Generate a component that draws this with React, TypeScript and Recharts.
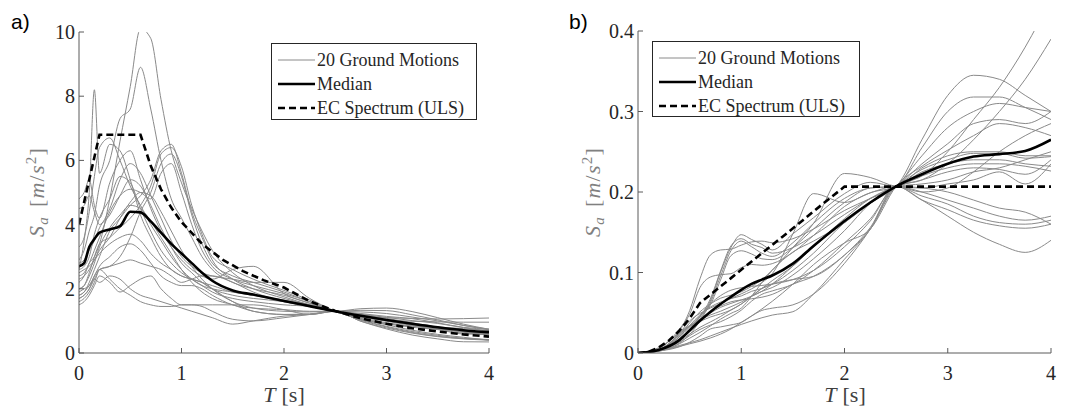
import React from 'react';
import { LineChart, Line, XAxis, YAxis, Legend } from 'recharts';

// ---------- data ----------
const T_A = [0, 0.05, 0.1, 0.15, 0.2, 0.3, 0.4, 0.5, 0.6, 0.7, 0.8, 0.9, 1.0, 1.1, 1.2, 1.3, 1.5, 1.7, 2.0, 2.25, 2.5, 2.75, 3.0, 3.25, 3.5, 3.75, 4.0];

const GM_A: number[][] = [
  [2.2, 2.4, 2.8, 3.0, 3.4, 4.8, 6.6, 8.3, 10.1, 9.8, 7.9, 6.3, 5.3, 4.5, 3.8, 3.2, 2.5, 2.1, 1.75, 1.5, 1.3, 1.38, 1.40, 1.29, 1.10, 0.90, 0.74],
  [2.9, 3.2, 3.8, 4.3, 5.2, 6.0, 7.3, 7.6, 8.9, 7.6, 6.0, 4.8, 4.2, 3.6, 3.0, 2.6, 2.2, 2.0, 1.8, 1.55, 1.3, 1.33, 1.32, 1.19, 1.03, 0.86, 0.72],
  [2.6, 3.5, 5.0, 8.2, 5.6, 6.5, 6.3, 5.4, 4.3, 3.6, 3.0, 2.6, 2.4, 2.3, 2.2, 2.1, 1.9, 1.8, 1.6, 1.45, 1.3, 1.28, 1.23, 1.12, 1.0, 0.86, 0.74],
  [1.8, 1.9, 2.2, 2.6, 3.0, 3.8, 4.2, 4.6, 4.9, 5.4, 6.3, 6.5, 5.6, 4.4, 3.6, 2.9, 2.3, 2.0, 1.7, 1.5, 1.3, 1.23, 1.14, 1.07, 0.94, 0.80, 0.74],
  [2.0, 2.1, 2.5, 3.0, 3.4, 3.6, 3.9, 4.2, 4.6, 5.2, 6.2, 6.4, 5.8, 4.6, 3.7, 3.0, 2.6, 2.3, 1.95, 1.65, 1.3, 1.20, 1.08, 0.94, 0.81, 0.69, 0.60],
  [1.7, 1.8, 2.0, 2.3, 2.6, 2.7, 3.0, 3.6, 4.4, 5.0, 5.9, 6.2, 5.5, 4.3, 3.4, 2.8, 2.4, 2.2, 1.9, 1.6, 1.3, 1.17, 1.03, 0.90, 0.77, 0.66, 0.57],
  [2.4, 2.5, 2.8, 3.2, 3.6, 4.4, 4.9, 5.1, 5.0, 4.8, 5.6, 5.9, 5.0, 4.0, 3.2, 2.7, 2.3, 2.1, 1.85, 1.6, 1.3, 1.15, 1.01, 0.88, 0.76, 0.65, 0.56],
  [3.3, 3.6, 4.4, 5.5, 6.4, 6.7, 6.0, 5.2, 4.6, 4.0, 3.5, 3.0, 2.6, 2.3, 2.1, 2.0, 1.9, 1.8, 1.65, 1.5, 1.3, 1.12, 0.99, 0.86, 0.74, 0.62, 0.59],
  [4.8, 5.0, 5.4, 4.6, 4.2, 5.3, 6.0, 6.3, 5.4, 4.5, 3.8, 3.3, 2.9, 2.6, 2.4, 2.3, 2.6, 2.7, 1.85, 1.55, 1.3, 1.04, 0.90, 0.84, 0.81, 0.76, 0.70],
  [4.5, 4.6, 4.9, 4.4, 4.0, 4.5, 5.4, 5.9, 5.6, 4.9, 4.2, 3.5, 3.0, 2.7, 2.5, 2.4, 2.3, 2.2, 2.2, 1.7, 1.3, 1.07, 0.92, 0.80, 0.73, 0.59, 0.58],
  [2.6, 2.7, 3.0, 3.7, 4.2, 4.8, 5.5, 5.3, 4.5, 3.8, 3.2, 2.8, 2.5, 2.3, 2.1, 1.9, 1.7, 1.6, 1.5, 1.45, 1.3, 1.04, 0.83, 0.67, 0.55, 0.46, 0.42],
  [2.8, 2.9, 3.2, 3.5, 3.9, 4.3, 4.9, 5.4, 5.2, 4.6, 3.9, 3.3, 2.8, 2.5, 2.2, 2.0, 1.8, 1.7, 1.6, 1.45, 1.3, 1.02, 0.81, 0.64, 0.52, 0.45, 0.41],
  [2.3, 2.4, 2.6, 2.9, 3.2, 3.6, 4.2, 4.7, 5.0, 4.9, 4.4, 3.8, 3.2, 2.7, 2.3, 2.0, 1.6, 1.4, 1.3, 1.28, 1.3, 0.99, 0.78, 0.62, 0.51, 0.44, 0.40],
  [2.0, 2.1, 2.4, 2.8, 3.3, 3.9, 4.3, 4.6, 4.5, 4.1, 3.6, 3.1, 2.6, 2.2, 1.9, 1.7, 1.5, 1.3, 1.2, 1.2, 1.3, 0.99, 0.75, 0.56, 0.44, 0.35, 0.345],
  [2.5, 2.6, 2.7, 2.9, 3.1, 3.4, 3.6, 3.7, 3.5, 3.1, 2.8, 2.6, 2.4, 2.3, 2.2, 2.0, 1.6, 1.3, 1.2, 1.22, 1.3, 1.07, 0.88, 0.71, 0.58, 0.49, 0.40],
  [1.9, 2.0, 2.1, 2.4, 2.7, 3.0, 3.3, 3.4, 3.2, 2.8, 2.4, 2.2, 2.1, 2.1, 2.0, 1.8, 1.5, 1.4, 1.35, 1.3, 1.3, 1.10, 0.94, 0.84, 0.74, 0.67, 0.62],
  [1.6, 1.7, 1.9, 2.2, 2.6, 2.7, 2.8, 2.9, 2.8, 2.7, 2.6, 2.4, 2.2, 2.3, 2.4, 2.4, 2.2, 1.9, 1.6, 1.45, 1.3, 1.19, 1.05, 0.93, 0.80, 0.68, 0.60],
  [1.5, 1.6, 1.8, 2.1, 2.4, 2.2, 1.9, 2.1, 2.3, 2.4, 2.0, 1.7, 1.5, 1.5, 1.5, 1.5, 1.5, 1.5, 1.35, 1.2, 1.3, 1.21, 1.11, 1.01, 0.92, 0.79, 0.67],
  [1.8, 1.9, 2.1, 2.3, 2.2, 2.4, 2.3, 2.0, 1.8, 1.7, 1.6, 1.5, 1.4, 1.3, 1.2, 1.1, 0.9, 1.0, 1.15, 1.2, 1.3, 1.15, 1.10, 1.08, 1.06, 1.07, 1.09],
  [1.7, 1.8, 2.0, 2.4, 2.6, 2.3, 2.0, 1.8, 1.6, 1.5, 1.45, 1.45, 1.5, 1.5, 1.45, 1.3, 1.05, 1.0, 1.1, 1.2, 1.3, 1.12, 1.03, 0.99, 0.97, 0.96, 0.96],
];

const MED_A = [2.7, 2.8, 3.3, 3.55, 3.75, 3.85, 3.95, 4.4, 4.38, 4.1, 3.75, 3.4, 3.1, 2.8, 2.5, 2.25, 1.95, 1.82, 1.62, 1.46, 1.3, 1.16, 1.03, 0.91, 0.80, 0.71, 0.65];

const EC_T_A = [0, 0.2, 0.6, 0.7, 0.8, 0.9, 1.0, 1.2, 1.4, 1.6, 1.8, 2.0, 2.25, 2.5, 2.75, 3.0, 3.25, 3.5, 3.75, 4.0];
const EC_A = [4.0, 6.8, 6.8, 5.83, 5.1, 4.53, 4.08, 3.4, 2.91, 2.55, 2.27, 2.04, 1.61, 1.31, 1.08, 0.91, 0.77, 0.67, 0.58, 0.51];

const T_B = [0, 0.2, 0.4, 0.5, 0.6, 0.7, 0.8, 0.9, 1.0, 1.1, 1.2, 1.3, 1.5, 1.7, 2.0, 2.25, 2.5, 2.75, 3.0, 3.25, 3.5, 3.75, 4.0];

const GM_B: number[][] = [
  [0, 0.0034, 0.0267, 0.0525, 0.0921, 0.1216, 0.128, 0.129, 0.134, 0.138, 0.139, 0.137, 0.142, 0.154, 0.177, 0.192, 0.207, 0.265, 0.32, 0.345, 0.34, 0.32, 0.30],
  [0, 0.0053, 0.0296, 0.0481, 0.0812, 0.0943, 0.0973, 0.0985, 0.106, 0.110, 0.109, 0.111, 0.125, 0.146, 0.182, 0.199, 0.207, 0.255, 0.30, 0.318, 0.318, 0.305, 0.29],
  [0, 0.0057, 0.0255, 0.0342, 0.0392, 0.0447, 0.0486, 0.0534, 0.0608, 0.0705, 0.0802, 0.0899, 0.108, 0.132, 0.162, 0.186, 0.207, 0.245, 0.28, 0.30, 0.31, 0.305, 0.30],
  [0, 0.003, 0.017, 0.0291, 0.0447, 0.067, 0.102, 0.133, 0.142, 0.135, 0.131, 0.124, 0.131, 0.146, 0.172, 0.192, 0.207, 0.235, 0.26, 0.285, 0.29, 0.285, 0.30],
  [0, 0.0034, 0.0158, 0.0266, 0.042, 0.0645, 0.1005, 0.131, 0.147, 0.141, 0.135, 0.128, 0.148, 0.168, 0.198, 0.212, 0.207, 0.23, 0.245, 0.25, 0.25, 0.245, 0.245],
  [0, 0.0026, 0.0122, 0.0228, 0.0401, 0.062, 0.0956, 0.127, 0.139, 0.132, 0.124, 0.12, 0.137, 0.161, 0.192, 0.205, 0.207, 0.225, 0.235, 0.24, 0.24, 0.235, 0.232],
  [0, 0.0036, 0.0199, 0.0323, 0.0456, 0.0596, 0.0908, 0.121, 0.127, 0.123, 0.117, 0.116, 0.131, 0.154, 0.187, 0.205, 0.207, 0.22, 0.23, 0.235, 0.235, 0.232, 0.226],
  [0, 0.0065, 0.0243, 0.0329, 0.042, 0.0496, 0.0567, 0.0616, 0.0659, 0.0705, 0.0766, 0.0856, 0.108, 0.132, 0.167, 0.192, 0.207, 0.215, 0.225, 0.23, 0.228, 0.222, 0.24],
  [0, 0.0042, 0.0243, 0.0399, 0.0492, 0.0558, 0.0616, 0.0677, 0.0735, 0.0797, 0.0875, 0.0985, 0.148, 0.198, 0.187, 0.199, 0.207, 0.20, 0.205, 0.225, 0.25, 0.27, 0.285],
  [0, 0.004, 0.0219, 0.0373, 0.0511, 0.0608, 0.0681, 0.0718, 0.076, 0.0828, 0.0912, 0.103, 0.131, 0.161, 0.223, 0.218, 0.207, 0.205, 0.21, 0.215, 0.225, 0.21, 0.235],
  [0, 0.0042, 0.0223, 0.0335, 0.041, 0.0472, 0.0519, 0.0575, 0.0633, 0.0705, 0.0766, 0.0813, 0.0969, 0.117, 0.152, 0.186, 0.207, 0.20, 0.19, 0.18, 0.17, 0.165, 0.17],
  [0, 0.0039, 0.0199, 0.0342, 0.0474, 0.0571, 0.0632, 0.0677, 0.0709, 0.0766, 0.0802, 0.0856, 0.1026, 0.124, 0.162, 0.186, 0.207, 0.195, 0.185, 0.17, 0.162, 0.16, 0.165],
  [0, 0.0032, 0.017, 0.0298, 0.0456, 0.0608, 0.0713, 0.078, 0.0811, 0.0828, 0.0839, 0.0856, 0.0912, 0.1025, 0.132, 0.164, 0.207, 0.19, 0.178, 0.165, 0.158, 0.155, 0.16],
  [0, 0.0033, 0.0174, 0.0291, 0.041, 0.0509, 0.0584, 0.0636, 0.0659, 0.0674, 0.0693, 0.0728, 0.0855, 0.0952, 0.1216, 0.154, 0.207, 0.19, 0.17, 0.15, 0.135, 0.125, 0.14],
  [0, 0.0031, 0.0146, 0.0234, 0.0319, 0.0385, 0.0454, 0.0534, 0.0608, 0.0705, 0.0802, 0.0856, 0.0912, 0.0952, 0.1216, 0.156, 0.207, 0.205, 0.20, 0.19, 0.18, 0.175, 0.16],
  [0, 0.0027, 0.0134, 0.0215, 0.0292, 0.0347, 0.0389, 0.0451, 0.0532, 0.0644, 0.0729, 0.0771, 0.0855, 0.1025, 0.1368, 0.1667, 0.207, 0.21, 0.215, 0.225, 0.23, 0.24, 0.25],
  [0, 0.0026, 0.0113, 0.0184, 0.0255, 0.0335, 0.0421, 0.0492, 0.0557, 0.0705, 0.0875, 0.1027, 0.1254, 0.139, 0.162, 0.186, 0.207, 0.228, 0.24, 0.248, 0.248, 0.242, 0.244],
  [0, 0.0024, 0.0077, 0.0133, 0.021, 0.0298, 0.0324, 0.0349, 0.038, 0.046, 0.0547, 0.0642, 0.0855, 0.1098, 0.1368, 0.154, 0.207, 0.232, 0.252, 0.27, 0.285, 0.28, 0.27],
  [0, 0.0022, 0.0093, 0.0127, 0.0164, 0.0211, 0.0259, 0.0308, 0.0355, 0.0398, 0.0438, 0.0471, 0.0513, 0.0732, 0.1165, 0.154, 0.207, 0.22, 0.25, 0.29, 0.33, 0.38, 0.44],
  [0, 0.0026, 0.0081, 0.0114, 0.0146, 0.0186, 0.0235, 0.0298, 0.038, 0.046, 0.0529, 0.0557, 0.0598, 0.0732, 0.1114, 0.154, 0.207, 0.215, 0.235, 0.265, 0.30, 0.34, 0.39],
];

const MED_B = [0, 0.0038, 0.016, 0.0279, 0.04, 0.0509, 0.0608, 0.0698, 0.0785, 0.0858, 0.0912, 0.0963, 0.111, 0.133, 0.164, 0.187, 0.207, 0.222, 0.235, 0.244, 0.247, 0.251, 0.265];

const EC_T_B = [0, 0.1, 0.2, 0.3, 0.4, 0.5, 0.6, 0.7, 0.8, 0.9, 1.0, 1.2, 1.4, 1.6, 1.8, 2.0, 4.0];
const EC_B = [0, 0.0014, 0.0069, 0.0155, 0.0276, 0.043, 0.062, 0.0724, 0.0827, 0.093, 0.1034, 0.124, 0.1445, 0.1653, 0.1863, 0.2067, 0.2067];

const X_TICKS = [0, 1, 2, 3, 4];
const Y_TICKS_A = [0, 2, 4, 6, 8, 10];
const Y_TICKS_B = [0, 0.1, 0.2, 0.3, 0.4];
const LEGEND_LABELS = ['20 Ground Motions', 'Median', 'EC Spectrum (ULS)'];

// ---------- style ----------
const SERIF = '"Liberation Serif", "Times New Roman", Times, serif';
const SANS = '"Liberation Sans", Arial, Helvetica, sans-serif';
const AX = '#5a5a5a';
const TXT = '#262626';
const GRAY = '#8a8a8a';
const TICK_FS = 20;

function buildRows(T: number[], series: number[][], med: number[]) {
  return T.map((t, i) => {
    const r: Record<string, number> = { T: t, med: med[i] };
    series.forEach((s, k) => {
      r['g' + k] = s[i];
    });
    return r;
  });
}
function buildEc(T: number[], V: number[]) {
  return T.map((t, i) => ({ T: t, ec: V[i] }));
}

const rowsA = buildRows(T_A, GM_A, MED_A);
const rowsB = buildRows(T_B, GM_B, MED_B);
const ecA = buildEc(EC_T_A, EC_A);
const ecB = buildEc(EC_T_B, EC_B);

const tickTextStyle: React.CSSProperties = { fontFamily: SERIF, fontSize: TICK_FS, fill: TXT };

const BottomTick = (p: any) => (
  <g>
    <line x1={p.x} y1={p.y} x2={p.x} y2={p.y - 5} stroke={AX} strokeWidth={1} />
    <text x={p.x} y={p.y + 27} textAnchor="middle" style={tickTextStyle}>
      {String(p.payload.value)}
    </text>
  </g>
);
const TopTick = (p: any) => (
  <line x1={p.x} y1={p.y} x2={p.x} y2={p.y + 5} stroke={AX} strokeWidth={1} />
);
const LeftTick = (p: any) => (
  <g>
    <line x1={p.x} y1={p.y} x2={p.x + 5} y2={p.y} stroke={AX} strokeWidth={1} />
    <text x={p.x - 4} y={p.y + 7} textAnchor="end" style={tickTextStyle}>
      {String(p.payload.value)}
    </text>
  </g>
);
const RightTick = (p: any) => (
  <line x1={p.x} y1={p.y} x2={p.x - 5} y2={p.y} stroke={AX} strokeWidth={1} />
);

const LegendBox = ({ w, h }: { w: number; h: number }) => (
  <div
    style={{
      width: w,
      height: h,
      boxSizing: 'border-box',
      border: '1px solid #262626',
      background: '#fff',
      fontFamily: SERIF,
      fontSize: 18,
      color: TXT,
      position: 'relative',
    }}
  >
    {LEGEND_LABELS.map((lab, i) => (
      <div
        key={lab}
        style={{
          position: 'absolute',
          left: 6,
          top: 4 + i * 24,
          height: 24,
          display: 'flex',
          alignItems: 'center',
          whiteSpace: 'nowrap',
          lineHeight: '24px',
        }}
      >
        <svg width={37} height={10} style={{ display: 'block' }}>
          <line
            x1={0}
            y1={5}
            x2={37}
            y2={5}
            stroke={i === 0 ? GRAY : '#000'}
            strokeWidth={i === 0 ? 1 : 2.5}
            strokeDasharray={i === 2 ? '7 4' : undefined}
          />
        </svg>
        <span style={{ marginLeft: 2 }}>{lab}</span>
      </div>
    ))}
  </div>
);

type PanelProps = {
  rows: Record<string, number>[];
  ec: { T: number; ec: number }[];
  nSeries: number;
  yMax: number;
  yTicks: number[];
  width: number;
  margin: { top: number; right: number; bottom: number; left: number };
  yAxisWidth: number;
  legendPos: { left: number; top: number; w: number; h: number };
};

const Panel = (props: PanelProps) => {
  const { rows, ec, nSeries, yMax, yTicks, width, margin, yAxisWidth, legendPos } = props;
  return (
    <LineChart width={width} height={412} data={rows} margin={margin} style={{ fontFamily: SERIF }}>
      <XAxis
        dataKey="T"
        type="number"
        domain={[0, 4]}
        ticks={X_TICKS}
        allowDataOverflow
        height={59}
        tickSize={0}
        tickMargin={0}
        tickLine={false}
        axisLine={{ stroke: AX }}
        tick={BottomTick}
        interval={0}
      />
      <XAxis
        xAxisId="top"
        orientation="top"
        dataKey="T"
        type="number"
        domain={[0, 4]}
        ticks={X_TICKS}
        allowDataOverflow
        height={0}
        tickSize={0}
        tickMargin={0}
        tickLine={false}
        axisLine={{ stroke: AX }}
        tick={TopTick}
        interval={0}
      />
      <YAxis
        type="number"
        domain={[0, yMax]}
        ticks={yTicks}
        allowDataOverflow
        width={yAxisWidth}
        tickSize={0}
        tickMargin={0}
        tickLine={false}
        axisLine={{ stroke: AX }}
        tick={LeftTick}
        interval={0}
      />
      <YAxis
        yAxisId="right"
        orientation="right"
        type="number"
        domain={[0, yMax]}
        ticks={yTicks}
        allowDataOverflow
        width={0}
        tickSize={0}
        tickMargin={0}
        tickLine={false}
        axisLine={{ stroke: AX }}
        tick={RightTick}
        interval={0}
      />
      {Array.from({ length: nSeries }, (_, k) => (
        <Line
          key={'g' + k}
          dataKey={'g' + k}
          type="monotone"
          stroke={GRAY}
          strokeWidth={1}
          dot={false}
          activeDot={false}
          isAnimationActive={false}
        />
      ))}
      <Line
        dataKey="med"
        type="monotone"
        stroke="#000"
        strokeWidth={2.6}
        dot={false}
        activeDot={false}
        isAnimationActive={false}
      />
      <Line
        data={ec}
        dataKey="ec"
        type="linear"
        stroke="#000"
        strokeWidth={2.6}
        strokeDasharray="7 4"
        dot={false}
        activeDot={false}
        isAnimationActive={false}
      />
      <Legend
        layout="horizontal"
        verticalAlign="middle"
        align="center"
        wrapperStyle={{ position: 'absolute', left: legendPos.left, top: legendPos.top, width: legendPos.w, height: legendPos.h }}
        content={() => <LegendBox w={legendPos.w} h={legendPos.h} />}
      />
    </LineChart>
  );
};

const YLabel = ({ x, y }: { x: number; y: number }) => (
  <text
    transform={`translate(${x},${y}) rotate(-90)`}
    textAnchor="middle"
    style={{ fontFamily: SERIF, fontSize: 22, fill: '#808080', letterSpacing: 1.2 }}
  >
    <tspan fontStyle="italic">S</tspan>
    <tspan fontStyle="italic" fontSize={15} dy={4}>a</tspan>
    <tspan dy={-4} dx={9}>[</tspan>
    <tspan fontStyle="italic">m</tspan>
    <tspan>/</tspan>
    <tspan fontStyle="italic">s</tspan>
    <tspan fontSize={15} dy={-8}>2</tspan>
    <tspan dy={8}>]</tspan>
  </text>
);

const XLabel = ({ x, y }: { x: number; y: number }) => (
  <text x={x} y={y} textAnchor="middle" style={{ fontFamily: SERIF, fontSize: 22, fill: '#404040' }}>
    <tspan fontStyle="italic">T</tspan>
    <tspan dx={6}>[s]</tspan>
  </text>
);

export default function App() {
  return (
    <div
      style={{
        position: 'absolute',
        left: 0,
        top: 0,
        width: 1067,
        height: 412,
        background: '#fff',
        overflow: 'hidden',
        fontFamily: SERIF,
      }}
    >
      <div style={{ position: 'absolute', left: 0, top: 0 }}>
        <Panel
          rows={rowsA}
          ec={ecA}
          nSeries={GM_A.length}
          yMax={10}
          yTicks={Y_TICKS_A}
          width={540}
          margin={{ top: 32, right: 51, bottom: 0, left: 0 }}
          yAxisWidth={79}
          legendPos={{ left: 271, top: 43, w: 206, h: 77 }}
        />
      </div>
      <div style={{ position: 'absolute', left: 530, top: 0 }}>
        <Panel
          rows={rowsB}
          ec={ecB}
          nSeries={GM_B.length}
          yMax={0.4}
          yTicks={Y_TICKS_B}
          width={537}
          margin={{ top: 31, right: 16, bottom: 0, left: 30 }}
          yAxisWidth={78}
          legendPos={{ left: 122, top: 41, w: 208, h: 76 }}
        />
      </div>
      <svg
        width={1067}
        height={412}
        style={{ position: 'absolute', left: 0, top: 0, pointerEvents: 'none' }}
      >
        <text x={11} y={29} style={{ fontFamily: SANS, fontSize: 21, fill: '#000' }}>a)</text>
        <text x={569} y={29} style={{ fontFamily: SANS, fontSize: 21, fill: '#000' }}>b)</text>
        <YLabel x={44} y={192} />
        <YLabel x={600} y={192} />
        <XLabel x={284} y={402} />
        <XLabel x={845} y={402} />
      </svg>
    </div>
  );
}
